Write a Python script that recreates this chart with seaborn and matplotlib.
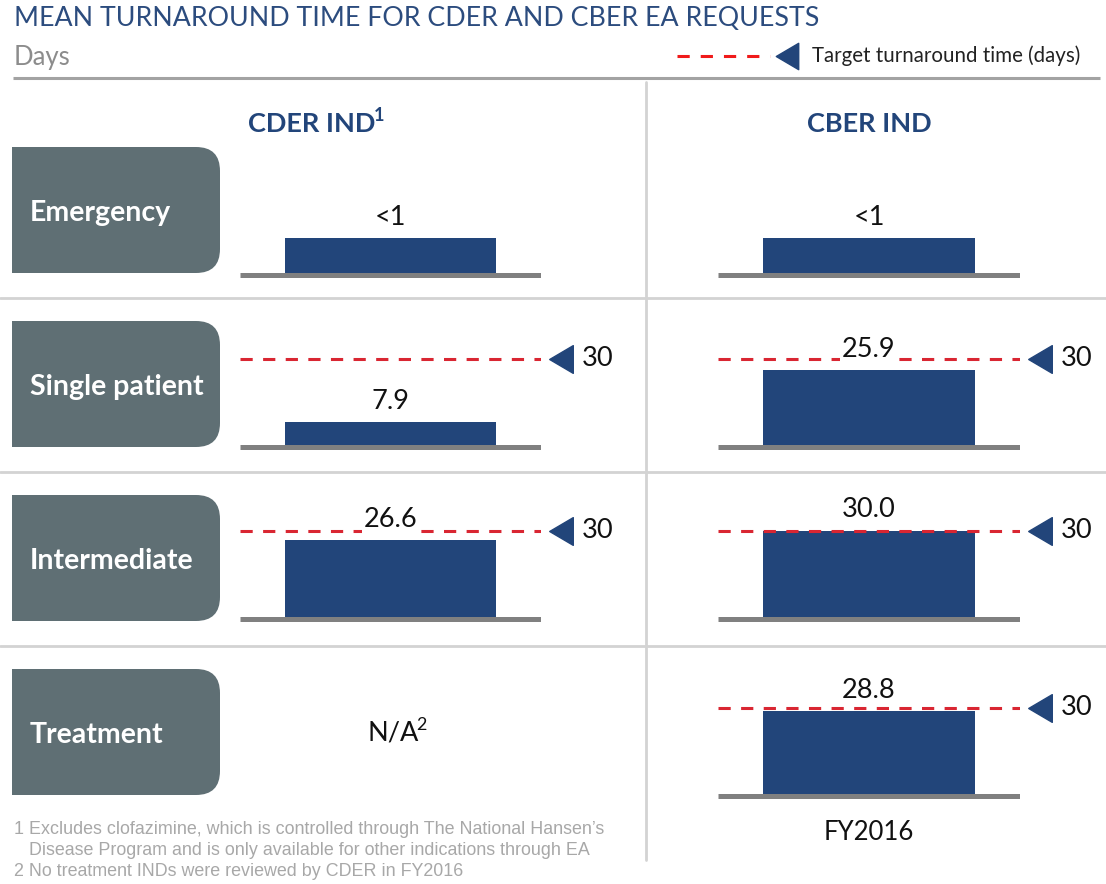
import matplotlib
matplotlib.use("Agg")
import matplotlib.pyplot as plt
import seaborn as sns
import numpy as np
import pandas as pd
from matplotlib.patches import FancyBboxPatch, Rectangle
from matplotlib.path import Path

# ---------------- data ----------------
categories = ["Emergency", "Single patient", "Intermediate", "Treatment"]
columns = ["CDER IND", "CBER IND"]
column_notes = ["1", ""]
# drawn bar heights (days); the "<1" bars are drawn with a visible stub as in the source
cder_values = [12.2, 7.9, 26.6, None]
cber_values = [12.2, 25.9, 30.0, 28.8]
cder_labels = ["<1", "7.9", "26.6", "N/A"]
cder_label_notes = ["", "", "", "2"]
cber_labels = ["<1", "25.9", "30.0", "28.8"]
cder_target = [None, 30, 30, None]
cber_target = [None, 30, 30, 30]
title = "MEAN TURNAROUND TIME FOR CDER AND CBER EA REQUESTS"
subtitle = "Days"
legend_label = "Target turnaround time (days)"
footnotes = ["1 Excludes clofazimine, which is controlled through The National Hansen\u2019s",
             "   Disease Program and is only available for other indications through EA",
             "2 No treatment INDs were reviewed by CDER in FY2016"]
period_label = "FY2016"

# ---------------- style ----------------
sns.set_theme(style="white")
plt.rcParams["font.family"] = ["Lato", "DejaVu Sans"]

NAVY = "#22457A"
TITLE_C = "#2C4C7E"
BOX_C = "#5F6F74"
RED = "#D92632"
GRID_C = "#D3D3D3"
TXT = "#111111"

W, H = 1106, 884
fig = plt.figure(figsize=(W / 100, H / 100), dpi=100)

# overlay axes in pixel coordinates
ov = fig.add_axes([0, 0, 1, 1])
ov.set_xlim(0, W)
ov.set_ylim(H, 0)
ov.axis("off")

ov.text(14, 19, title, color=TITLE_C, fontsize=19.3, va="center", ha="left")
ov.text(14, 58, subtitle, color="#8C8C8C", fontsize=18.5, va="center", ha="left")
ov.plot([13, 1100], [78, 78], color="#A3A3A3", lw=2.2, solid_capstyle="butt")

# legend
tri = Path([(-0.85, 0), (0.85, 1), (0.85, -1), (-0.85, 0)],
           [Path.MOVETO, Path.LINETO, Path.LINETO, Path.CLOSEPOLY])
ov.plot([677, 770], [56, 56], color="#F01A1A", lw=2.2, dashes=(4, 3.6))
ov.plot([787], [56], marker=tri, markersize=19, color=NAVY, ls="none")
ov.text(812, 56, legend_label, fontsize=14.8, color="#222222", va="center", ha="left")

# grid separators
ov.plot([646, 646], [82, 860], color=GRID_C, lw=2)
for y in [298, 472, 646]:
    ov.plot([0, W], [y, y], color=GRID_C, lw=2)


def text_with_note(x_center, y, main, note, fs, note_fs, **kw):
    """Centre main text + superscript note around x_center."""
    t = ov.text(0, y, main, fontsize=fs, ha="left", va="center", **kw)
    fig.canvas.draw()
    r = fig.canvas.get_renderer()
    wmain = t.get_window_extent(r).width
    n = None
    wnote = 0
    if note:
        n = ov.text(0, y - fs * 0.42, note, fontsize=note_fs, ha="left", va="center", **kw)
        wnote = n.get_window_extent(r).width - 2
    left = x_center - (wmain + wnote) / 2
    t.set_x(left)
    if n is not None:
        n.set_x(left + wmain - 2)


# column headers
text_with_note(316, 124, columns[0], column_notes[0], 19.5, 13, color=NAVY, fontweight="bold")
text_with_note(869, 124, columns[1], column_notes[1], 19.5, 13, color=NAVY, fontweight="bold")

# row boxes
baselines = [273, 445, 617, 794]
box_tops = [147, 321, 495, 669]
for cat, top in zip(categories, box_tops):
    h = 126
    p = FancyBboxPatch((12, top), 208, h, boxstyle="round,pad=0,rounding_size=24",
                       fc=BOX_C, ec="none")
    ov.add_patch(p)
    ov.add_patch(Rectangle((12, top), 60, h, fc=BOX_C, ec="none"))
    ov.text(30, top + h / 2 + 3, cat, color="white", fontsize=20.5, fontweight="bold",
            ha="left", va="center")

# footnotes
for i, ft in enumerate(footnotes):
    ov.text(14, 830 + i * 20.5, ft, color="#A8A8A8", fontsize=12.9,
            family=["Liberation Sans", "DejaVu Sans"], ha="left", va="center")

ov.text(869, 832, period_label, fontsize=18.5, color=TXT, ha="center", va="center")

# ---------------- panels ----------------
PX_PER_DAY = 2.88
AX_H = 125
panel_x = [(240, 541), (718, 1020)]


def panel(x0, x1, base, value, label, target, cat):
    top = base - AX_H
    bottom = base + 6
    ax = fig.add_axes([x0 / W, 1 - bottom / H, (x1 - x0) / W, (bottom - top) / H])
    ax.patch.set_alpha(0)
    ax.set_ylim(-6 / PX_PER_DAY, AX_H / PX_PER_DAY)
    df = pd.DataFrame({"cat": [cat], "days": [value]})
    sns.barplot(data=df, x="cat", y="days", ax=ax, color=NAVY, width=0.7,
                saturation=1, zorder=2)
    for p in ax.patches:
        p.set_edgecolor("none")
    ax.set_xlim(-0.5, 0.5)
    ax.axhline(-0.85, color="#808080", lw=3.6, zorder=1, solid_capstyle="butt")
    if target is not None:
        wpx = x1 - x0
        ax.axhline(target, color=RED, lw=2.2, dashes=(4, 3.4), zorder=3)
        ax.plot([(wpx + 20) / wpx], [target], marker=tri, markersize=20, color=NAVY,
                ls="none", transform=ax.get_yaxis_transform(), clip_on=False)
        ax.text((wpx + 41) / wpx, target, str(target), transform=ax.get_yaxis_transform(),
                fontsize=19.5, color=TXT, ha="left", va="center", clip_on=False)
    ax.annotate(label, xy=(0, value), xytext=(0, 9.5), textcoords="offset points",
                ha="center", va="baseline", fontsize=19.5, color=TXT, zorder=5,
                bbox=dict(boxstyle="square,pad=0.08", fc="white", ec="none"))
    ax.axis("off")
    return ax


for r in range(4):
    # CDER
    if cder_values[r] is not None:
        panel(*panel_x[0], baselines[r], cder_values[r], cder_labels[r], cder_target[r],
              categories[r])
    else:
        text_with_note(397, 733, cder_labels[r], cder_label_notes[r], 19.5, 13, color=TXT)
    # CBER
    panel(*panel_x[1], baselines[r], cber_values[r], cber_labels[r], cber_target[r],
          categories[r])

fig.savefig("out.png", dpi=100)
